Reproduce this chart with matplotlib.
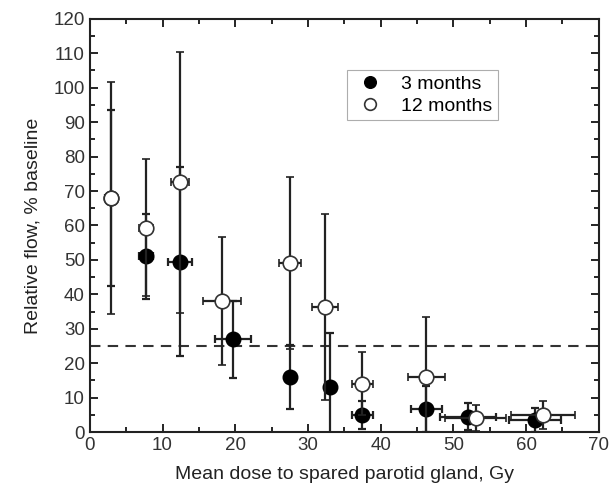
import numpy as np
import matplotlib.pyplot as plt
from matplotlib.ticker import MultipleLocator

plt.rcParams['font.family'] = ['Liberation Sans', 'DejaVu Sans']

# 3 months
dose3 = [2.9, 7.7, 12.4, 19.7, 27.5, 33.0, 37.5, 46.3, 52.0, 61.2]
dose3_err = [0.8, 1.0, 1.6, 2.5, 0.0, 0.0, 1.5, 2.1, 3.8, 3.6]
flow3 = [68.0, 51.0, 49.5, 26.9, 16.0, 13.2, 4.9, 6.7, 4.5, 3.5]
flow3_err = [25.5, 12.3, 27.4, 11.1, 9.4, 15.5, 4.0, 6.7, 4.0, 3.5]

# 12 months
dose12 = [2.9, 7.7, 12.4, 18.2, 27.5, 32.3, 37.5, 46.3, 53.1, 62.3]
dose12_err = [0.8, 1.0, 1.2, 2.6, 1.5, 1.8, 1.5, 2.5, 4.2, 4.4]
flow12 = [68.0, 59.4, 72.5, 38.1, 49.0, 36.4, 14.1, 15.9, 4.0, 4.9]
flow12_err = [33.6, 20.0, 37.9, 18.6, 25.0, 27.0, 9.2, 17.6, 3.8, 4.1]

threshold = 25

fig = plt.figure(figsize=(6.11, 4.95), dpi=100)
ax = fig.add_axes([0.147, 0.127, 0.833, 0.835])

ax.errorbar(dose3, flow3, xerr=dose3_err, yerr=flow3_err, fmt='o', color='black',
            ecolor='#222222', elinewidth=1.6, capsize=3, capthick=1.6,
            markersize=10.5, markerfacecolor='black', markeredgecolor='black',
            label='3 months', zorder=3)
ax.errorbar(dose12, flow12, xerr=dose12_err, yerr=flow12_err, fmt='o', color='black',
            ecolor='#222222', elinewidth=1.6, capsize=3, capthick=1.6,
            markersize=10.5, markerfacecolor='white', markeredgecolor='#333333',
            markeredgewidth=1.2, label='12 months', zorder=4)

ax.axhline(threshold, color='#333333', linestyle=(0, (5, 3.5)), linewidth=1.5, zorder=2)

ax.set_xlim(0, 70)
ax.set_ylim(0, 120)
ax.xaxis.set_major_locator(MultipleLocator(10))
ax.xaxis.set_minor_locator(MultipleLocator(5))
ax.yaxis.set_major_locator(MultipleLocator(10))
ax.yaxis.set_minor_locator(MultipleLocator(5))
ax.tick_params(which='both', direction='in', top=True, right=True, labelsize=13.5,
               labelcolor='#333333', width=1.2)
ax.tick_params(which='major', length=6)
ax.tick_params(which='minor', length=3.5)
for s in ax.spines.values():
    s.set_linewidth(1.5)
    s.set_color('#222222')

ax.set_xlabel('Mean dose to spared parotid gland, Gy', fontsize=14, color='#222222', labelpad=9)
ax.set_ylabel('Relative flow, % baseline', fontsize=14, color='#222222', labelpad=9)

h, l = ax.get_legend_handles_labels()
h = [x[0] for x in h]
leg = ax.legend(h, l, loc='upper left', bbox_to_anchor=(0.505, 0.877), borderaxespad=0,
                fontsize=14, frameon=True, fancybox=False, edgecolor='#999999',
                handletextpad=0.7, borderpad=0.3, labelspacing=0.2, markerscale=0.8,
                handlelength=1.8)
leg.get_frame().set_linewidth(0.8)

fig.savefig('out.png', dpi=100)
